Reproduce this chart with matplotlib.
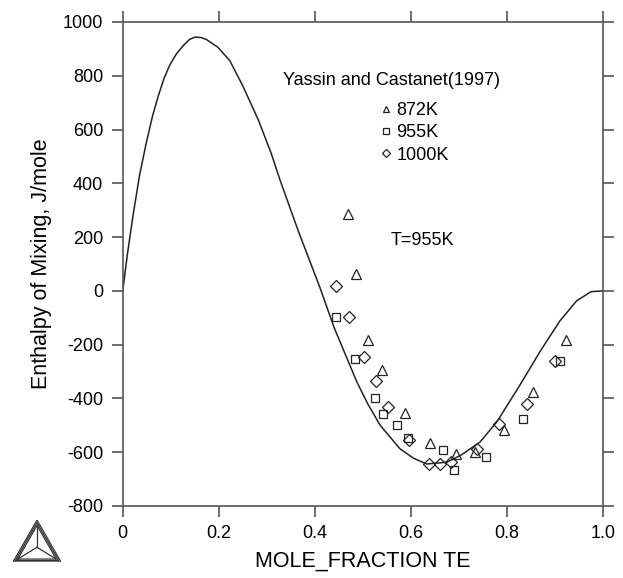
"""Enthalpy of mixing vs mole fraction Te at 955 K with Yassin and Castanet (1997) data."""

import matplotlib

matplotlib.use("Agg")
import matplotlib.pyplot as plt
from matplotlib.lines import Line2D

plt.rcParams["font.family"] = ["Liberation Sans", "DejaVu Sans"]
plt.rcParams["axes.unicode_minus"] = False

# calculated curve
curve_x = [0.0, 0.010, 0.021, 0.035, 0.049, 0.062, 0.074, 0.086, 0.098, 0.112,
           0.126, 0.139, 0.151, 0.163, 0.174, 0.198, 0.223,
           0.250, 0.282, 0.309, 0.3275, 0.365, 0.411, 0.44, 0.487, 0.51, 0.536,
           0.577, 0.605, 0.633, 0.675, 0.705, 0.744, 0.779, 0.827, 0.869, 0.910,
           0.945, 0.975, 1.0]
curve_y = [0, 140, 275, 430, 550, 650, 725, 790, 840, 882,
           912, 935, 944, 942, 935, 906, 856,
           762, 637, 512, 412, 225, 10, -136, -337, -420, -500,
           -587, -622, -644, -637, -610, -562, -487, -350, -225, -112,
           -37, -3, 0]

# experimental points
t872_x = [0.468, 0.486, 0.511, 0.540, 0.588, 0.640, 0.694, 0.733, 0.794, 0.854, 0.922]
t872_y = [285, 62, -184, -294, -456, -565, -607, -600, -519, -377, -181]

t955_x = [0.443, 0.484, 0.525, 0.542, 0.571, 0.593, 0.667, 0.690, 0.756, 0.834, 0.910]
t955_y = [-96, -252, -400, -457, -498, -548, -590, -665, -619, -477, -260]

t1000_x = [0.443, 0.471, 0.502, 0.527, 0.553, 0.595, 0.638, 0.661, 0.683, 0.737, 0.784, 0.841, 0.900]
t1000_y = [19, -96, -246, -337, -433, -556, -644, -644, -637, -587, -494, -419, -262]

x_ticks = [0, 0.2, 0.4, 0.6, 0.8, 1.0]
x_tick_labels = ["0", "0.2", "0.4", "0.6", "0.8", "1.0"]
y_ticks = [-800, -600, -400, -200, 0, 200, 400, 600, 800, 1000]

fig = plt.figure(figsize=(6.23, 5.78), dpi=100)
ax = fig.add_axes([0.197, 0.1246, 0.771, 0.8374])

ax.plot(curve_x, curve_y, color="#222222", lw=1.1)

mk = dict(linestyle="none", markerfacecolor="none", markeredgecolor="#222222",
          markeredgewidth=0.9)
ax.plot(t872_x, t872_y, marker="^", markersize=6.5, **mk)
ax.plot(t955_x, t955_y, marker="s", markersize=6, **mk)
ax.plot(t1000_x, t1000_y, marker="D", markersize=6, **mk)

ax.set_xlim(0, 1.0)
ax.set_ylim(-800, 1000)
ax.set_xticks(x_ticks)
ax.set_xticklabels(x_tick_labels)
ax.set_yticks(y_ticks)
ax.tick_params(direction="out", length=8, width=1.2, color="#555555",
               labelsize=13, top=True, right=True, pad=6)
for sp in ax.spines.values():
    sp.set_color("#555555")
    sp.set_linewidth(1.2)

ax.set_xlabel("MOLE_FRACTION TE", fontsize=15.5, labelpad=6)
ax.set_ylabel("Enthalpy of Mixing, J/mole", fontsize=15.5, labelpad=8)

ax.text(0.334, 0.880, "Yassin and Castanet(1997)", transform=ax.transAxes,
        fontsize=13, va="center", ha="left")
handles = [
    Line2D([], [], marker="^", markersize=5, **mk),
    Line2D([], [], marker="s", markersize=5, **mk),
    Line2D([], [], marker="D", markersize=4.5, **mk),
]
ax.legend(handles, ["872K", "955K", "1000K"], loc="upper left",
          bbox_to_anchor=(0.536, 0.835), frameon=False, fontsize=13,
          handlelength=0.6, handletextpad=0.3, labelspacing=0.3,
          borderpad=0, borderaxespad=0)

ax.text(0.557, 0.5475, "T=955K", transform=ax.transAxes, fontsize=13,
        va="center", ha="left")

# Thermo-Calc style logo, bottom left
lax = fig.add_axes([13 / 623, 16 / 578, 48 / 623, 42 / 578])
lax.set_xlim(0, 1)
lax.set_ylim(0, 1)
lax.axis("off")
for s in (1.0, 0.9, 0.8):
    cx, cy = 0.5, 0.35
    pts = [(cx + (px - cx) * s, cy + (py - cy) * s)
           for px, py in [(0.0, 0.0), (0.5, 1.0), (1.0, 0.0), (0.0, 0.0)]]
    lax.plot([p[0] for p in pts], [p[1] for p in pts], color="#333333", lw=0.9)
for px, py in [(0.1, 0.07), (0.5, 0.87), (0.9, 0.07)]:
    lax.plot([0.5, px], [0.35, py], color="#333333", lw=0.9)

fig.savefig("out.png", dpi=100)
